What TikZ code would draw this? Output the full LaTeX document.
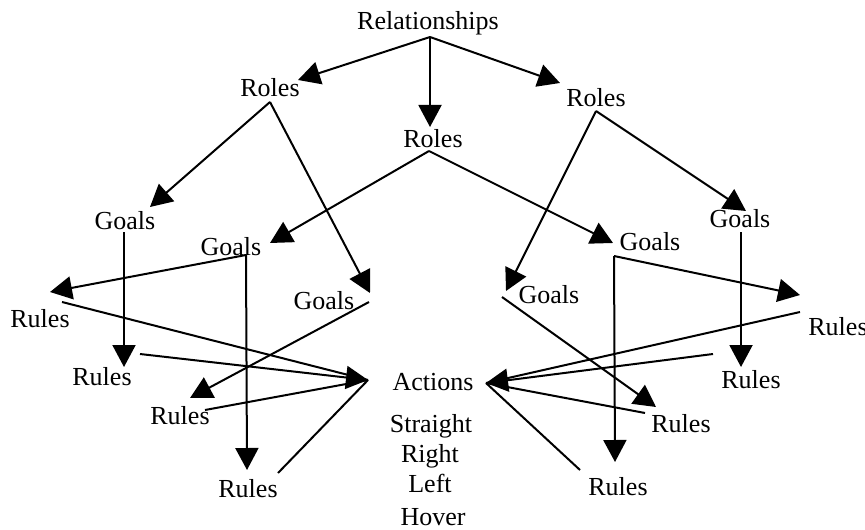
\documentclass[tikz,border=0pt]{standalone}
\usepackage{fontspec}
\setmainfont{Liberation Serif}
\usetikzlibrary{arrows.meta}

\tikzset{
  lbl/.style={anchor=base, inner sep=0pt, font=\fontsize{13}{15}\selectfont},
  link/.style={line width=1pt},
  arr/.style={link, -{Triangle[length=11pt,width=11.5pt]}}
}

\begin{document}
\begin{tikzpicture}[x=0.5pt, y=-0.5pt]
\useasboundingbox (0,0) rectangle (865,529);

% ---- text labels ----
\node[lbl] (rel)   at (428,30)  {Relationships};
\node[lbl] (rolL)  at (270,97)  {Roles};
\node[lbl] (rolM)  at (433,148) {Roles};
\node[lbl] (rolR)  at (596,107) {Roles};
\node[lbl] (goaA)  at (125,229) {Goals};
\node[lbl] (goaB)  at (231,255) {Goals};
\node[lbl] (goaC)  at (324,309) {Goals};
\node[lbl] (goaD)  at (549,303) {Goals};
\node[lbl] (goaE)  at (650,250) {Goals};
\node[lbl] (goaF)  at (740,227) {Goals};
\node[lbl] (rulA)  at (40,327)  {Rules};
\node[lbl] (rulB)  at (102,385) {Rules};
\node[lbl] (rulC)  at (180,424) {Rules};
\node[lbl] (rulD)  at (248,497) {Rules};
\node[lbl] (rulE)  at (618,495) {Rules};
\node[lbl] (rulF)  at (681,432) {Rules};
\node[lbl] (rulG)  at (751,388) {Rules};
\node[lbl] (rulH)  at (838,335) {Rules};
\node[lbl] (act)   at (433,390) {Actions};
\node[lbl] (actS)  at (431,432) {Straight};
\node[lbl] (actR)  at (430,462) {Right};
\node[lbl] (actL)  at (430,492) {Left};
\node[lbl] (actH)  at (433,525) {Hover};

% ---- connector end points ----
\coordinate (relP)  at (430,37);
\coordinate (rolLP) at (270,102);
\coordinate (rolMP) at (429,151);
\coordinate (rolRP) at (596,111);
\coordinate (rolLT) at (298,80);
\coordinate (rolMT) at (430,127);
\coordinate (rolRT) at (560,83);
\coordinate (goaAT) at (150,207);
\coordinate (goaCT) at (370,293);
\coordinate (goaBT) at (270,243);
\coordinate (goaET) at (613,243);
\coordinate (goaFT) at (746,211);
\coordinate (goaDT) at (506,291);
\coordinate (goaAP) at (124,232);
\coordinate (goaBP) at (246,255);
\coordinate (goaCP) at (369,302);
\coordinate (goaDP) at (502,297);
\coordinate (goaEP) at (614,256);
\coordinate (goaFP) at (741,232);
\coordinate (rulAT) at (50,292);
\coordinate (rulBT) at (124,367);
\coordinate (rulCT) at (190,398);
\coordinate (rulDT) at (247,470);
\coordinate (rulET) at (615,462);
\coordinate (rulFT) at (656,407);
\coordinate (rulGT) at (741,367);
\coordinate (rulHT) at (800,295);
\coordinate (rulAP) at (62,302);
\coordinate (rulBP) at (140,354);
\coordinate (rulCP) at (205,410);
\coordinate (rulDP) at (278,473);
\coordinate (rulEP) at (580,470);
\coordinate (rulFP) at (645,413);
\coordinate (rulGP) at (713,354);
\coordinate (rulHP) at (800,312);
\coordinate (actLT) at (368,380);
\coordinate (actRT) at (486,383);

% ---- relationships to roles ----
\draw[arr] (relP) -- (rolLT);
\draw[arr] (relP) -- (rolMT);
\draw[arr] (relP) -- (rolRT);

% ---- roles to goals ----
\draw[arr] (rolLP) -- (goaAT);
\draw[arr] (rolLP) -- (goaCT);
\draw[arr] (rolMP) -- (goaBT);
\draw[arr] (rolMP) -- (goaET);
\draw[arr] (rolRP) -- (goaFT);
\draw[arr] (rolRP) -- (goaDT);

% ---- goals to rules ----
\draw[arr] (goaAP) -- (rulBT);
\draw[arr] (goaBP) -- (rulAT);
\draw[arr] (goaBP) -- (rulDT);
\draw[arr] (goaCP) -- (rulCT);
\draw[arr] (goaDP) -- (rulFT);
\draw[arr] (goaEP) -- (rulHT);
\draw[arr] (goaEP) -- (rulET);
\draw[arr] (goaFP) -- (rulGT);

% ---- rules to actions ----
\draw[link] (rulAP) -- (actLT);
\draw[arr]  (rulBP) -- (actLT);
\draw[link] (rulCP) -- (actLT);
\draw[link] (rulDP) -- (actLT);
\draw[link] (rulHP) -- (actRT);
\draw[arr]  (rulGP) -- (actRT);
\draw[link] (rulFP) -- (actRT);
\draw[link] (rulEP) -- (actRT);
\end{tikzpicture}
\end{document}
